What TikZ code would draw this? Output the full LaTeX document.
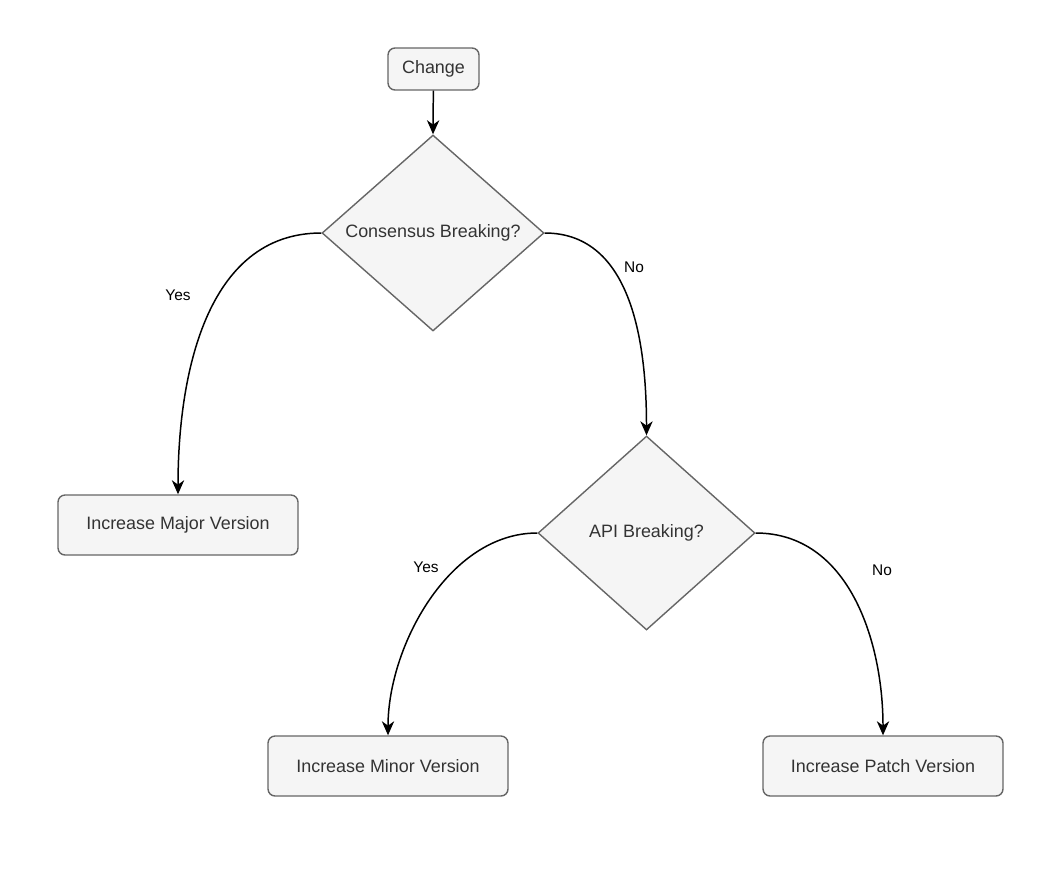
\documentclass[tikz,border=0pt]{standalone}
\usepackage{fontspec}
\setmainfont{Liberation Sans}
\usetikzlibrary{arrows.meta,shapes.geometric}

\definecolor{boxfill}{HTML}{F5F5F5}
\definecolor{boxline}{HTML}{666666}
\definecolor{boxtext}{HTML}{333333}

\begin{document}
\begin{tikzpicture}[x=0.02cm,y=-0.02cm,
    box/.style={draw=boxline,fill=boxfill,text=boxtext,line width=.8pt,
      rounded corners=.14cm,inner sep=0pt,font=\fontsize{10.2}{12}\selectfont},
    choice/.style={draw=boxline,fill=boxfill,text=boxtext,line width=.8pt,
      diamond,inner sep=0pt,font=\fontsize{10.2}{12}\selectfont},
    edge/.style={black,line width=.85pt,-{Stealth[length=8pt,width=7pt,inset=2.5pt]}},
    answer/.style={font=\fontsize{8.8}{10}\selectfont,inner sep=1pt}]
  \useasboundingbox (0,0) rectangle (1060,868);

  \node[box,minimum width=1.82cm,minimum height=.84cm] (change) at (433.5,69) {Change};
  \node[choice,minimum width=4.44cm,minimum height=3.92cm] (cons) at (433,233) {Consensus Breaking?};
  \node[box,minimum width=4.8cm,minimum height=1.2cm] (major) at (178,525) {Increase Major Version};
  \node[choice,minimum width=4.34cm,minimum height=3.88cm] (api) at (646.5,533) {API Breaking?};
  \node[box,minimum width=4.8cm,minimum height=1.2cm] (minor) at (388,766) {Increase Minor Version};
  \node[box,minimum width=4.8cm,minimum height=1.2cm] (patch) at (883,766) {Increase Patch Version};

  \draw[edge] (change) -- (cons.north);
  \draw[edge] (cons.west) to[out=180,in=90] (major.north);
  \draw[edge] (cons.east) to[out=0,in=90] (api.north);
  \draw[edge] (api.west) to[out=180,in=90,looseness=.9] (minor.north);
  \draw[edge] (api.east) to[out=0,in=90] (patch.north);

  \node[answer] (yesmajor) at (178,295) {Yes};
  \node[answer] (nocons) at (634,267) {No};
  \node[answer,fill=white] (yesminor) at (426,567) {Yes};
  \node[answer] (nopatch) at (882,570) {No};
\end{tikzpicture}
\end{document}
